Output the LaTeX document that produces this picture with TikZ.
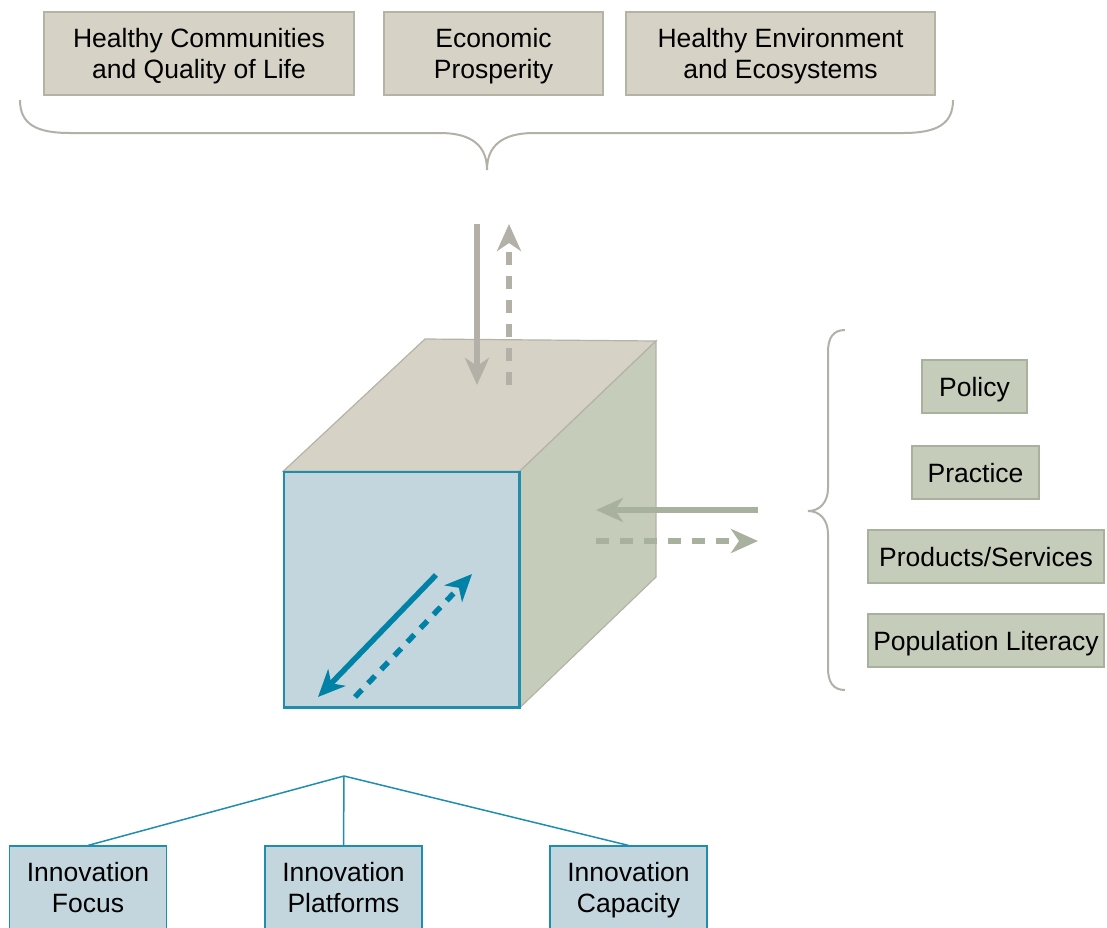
\documentclass[tikz,border=0pt]{standalone}
\usepackage{fontspec}
\setmainfont{Liberation Sans}
\usetikzlibrary{arrows.meta}

\definecolor{tanfill}{HTML}{D6D3C6}
\definecolor{tanline}{HTML}{B5B2A6}
\definecolor{sagefill}{HTML}{C5CDBA}
\definecolor{sageline}{HTML}{A8B09E}
\definecolor{bluefill}{HTML}{C4D6DD}
\definecolor{tealline}{HTML}{1F8DAE}
\definecolor{tealarrow}{HTML}{0082A6}
\definecolor{grayarrow}{HTML}{B3B1A7}

\tikzset{
  label/.style={font=\fontsize{26.5}{31}\selectfont, align=center, inner sep=0pt, text depth=-2pt},
  goalbox/.style={label, fill=tanfill, draw=tanline, line width=1.2pt, minimum height=83pt},
  outbox/.style={label, fill=sagefill, draw=sageline, line width=1.2pt, minimum height=53pt},
  innobox/.style={label, fill=bluefill, draw=tealline, line width=1.2pt, minimum height=83pt, minimum width=157pt},
  brace/.style={draw=grayarrow, line width=2pt},
  flow/.style={line width=5.5pt, -{Stealth[length=27pt,width=24pt,inset=8pt]}},
  dashflow/.style={flow, dash pattern=on 13pt off 11pt}
}

\begin{document}
\begin{tikzpicture}[x=1pt,y=-1pt]
    \useasboundingbox (0,0) rectangle (1107,927);

    % goals at the top
    \node[goalbox, minimum width=310pt] (health) at (199,53.5) {Healthy Communities\\and Quality of Life};
    \node[goalbox, minimum width=219pt] (econ) at (493.5,53.5) {Economic\\Prosperity};
    \node[goalbox, minimum width=309pt] (env) at (780.5,53.5) {Healthy Environment\\and Ecosystems};
    \draw[brace] (20,100) .. controls (20,124) and (36,133) .. (70,133) -- (440,133)
        .. controls (472,133) and (487,146) .. (487,170)
        .. controls (487,146) and (502,133) .. (534,133) -- (903,133)
        .. controls (937,133) and (953,124) .. (953,100);

    % the cube
    \node[fill=bluefill, draw=tealline, line width=1.5pt, minimum width=235pt, minimum height=235pt, inner sep=0pt] (front) at (401.5,589.5) {};
    \coordinate (backleft) at (425,339);
    \coordinate (backright) at (656,341);
    \coordinate (backlow) at (656,577);
    \draw[fill=tanfill, draw=tanline, line width=1.2pt] (front.north west) -- (backleft) -- (backright) -- (front.north east) -- cycle;
    \draw[fill=sagefill, draw=tanline, line width=1.2pt] (front.north east) -- (backright) -- (backlow) -- (front.south east) -- cycle;
    \draw[tealline, line width=1.5pt] (front.north west) rectangle (front.south east);

    % arrows on the cube
    \coordinate (topstart) at (477,224);
    \coordinate (topend) at (477,385);
    \coordinate (upstart) at (509,385);
    \coordinate (upend) at (509,224);
    \draw[flow, grayarrow] (topstart) -- (topend);
    \draw[dashflow, grayarrow] (upstart) -- (upend);
    \coordinate (sidestart) at (758,510);
    \coordinate (sideend) at (596,510);
    \coordinate (outstart) at (596,541);
    \coordinate (outend) at (758,541);
    \draw[flow, sageline] (sidestart) -- (sideend);
    \draw[dashflow, sageline] (outstart) -- (outend);
    \coordinate (diagstart) at (436,575);
    \coordinate (diagend) at (318,697);
    \coordinate (backstart) at (355,697);
    \coordinate (backend) at (472,574);
    \draw[flow, tealarrow] (diagstart) -- (diagend);
    \draw[dashflow, tealarrow, dash pattern=on 10pt off 9pt] (backstart) -- (backend);

    % outputs on the right
    \draw[brace] (845,330) .. controls (833,330) and (828,338) .. (828,352) -- (828,488)
        .. controls (828,502) and (820,511) .. (808,511)
        .. controls (820,511) and (828,520) .. (828,534) -- (828,668)
        .. controls (828,682) and (833,690) .. (845,690);
    \node[outbox, minimum width=105pt] (policy) at (974.5,386.5) {Policy};
    \node[outbox, minimum width=127pt] (practice) at (975.5,472.5) {Practice};
    \node[outbox, minimum width=236pt] (products) at (986,556.5) {Products/Services};
    \node[outbox, minimum width=236pt] (literacy) at (986,640.5) {Population Literacy};

    % innovation tree
    \coordinate (root) at (344,776);
    \node[innobox] (focus) at (88,887.5) {Innovation\\Focus};
    \node[innobox] (platforms) at (343.5,887.5) {Innovation\\Platforms};
    \node[innobox] (capacity) at (628.5,887.5) {Innovation\\Capacity};
    \draw[tealline, line width=1.5pt] (root) -- (focus.north);
    \draw[tealline, line width=1.5pt] (root) -- (platforms.north);
    \draw[tealline, line width=1.5pt] (root) -- (capacity.north);
\end{tikzpicture}
\end{document}
